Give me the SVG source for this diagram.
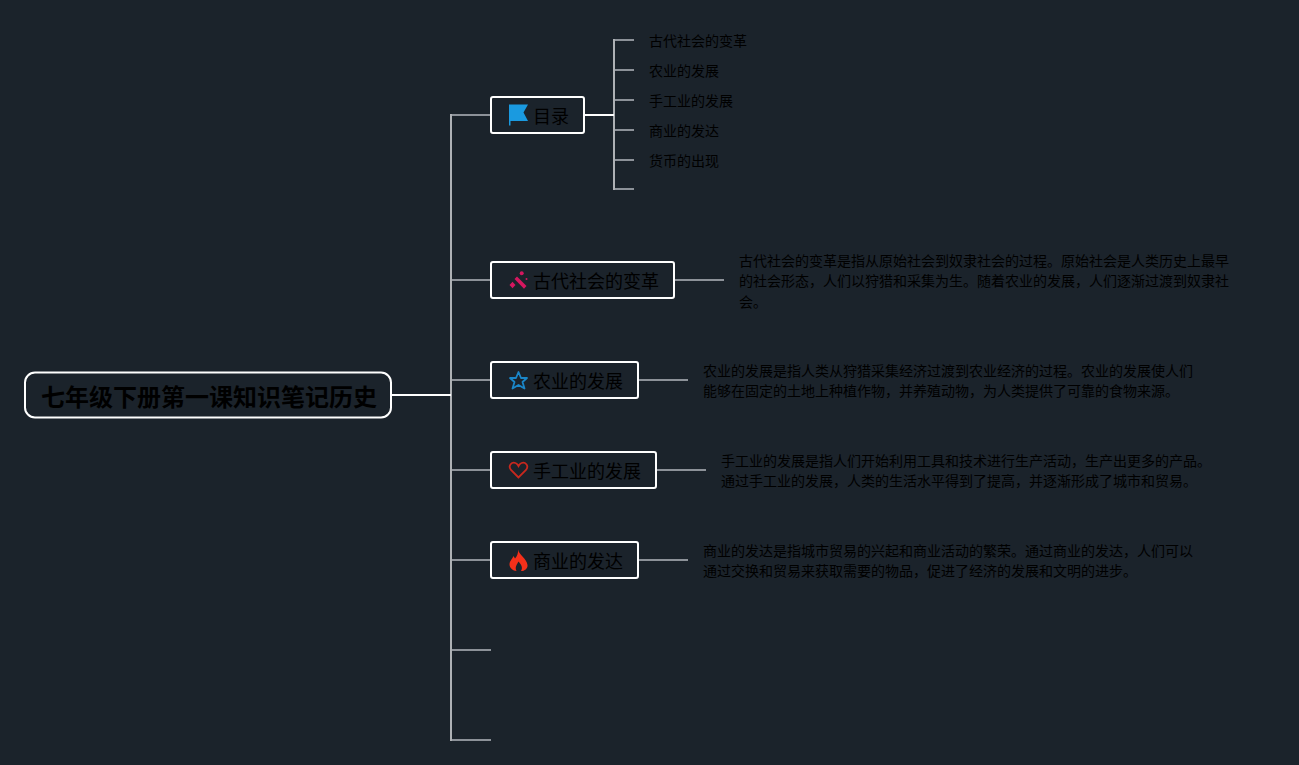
<svg xmlns="http://www.w3.org/2000/svg" width="1299" height="765" viewBox="0 0 1299 765">
<style>
text{font-family:"Noto Sans CJK SC","Liberation Sans",sans-serif;fill:#000}
.root{font-size:24px;font-weight:700}
.main{font-size:18px}
.sub{font-size:14px}
.box{fill:#1b232b;stroke:#fff;stroke-width:2}
.stub{fill:none;stroke:#8d9299;stroke-width:2}
.trunk{fill:none;stroke:#aeb1b5;stroke-width:2}
.w{fill:none;stroke:#fff;stroke-width:2}
</style>
<rect width="1299" height="765" fill="#1b232b"/>
<g id="connectors">
<path class="stub" d="M451 115H491M451 740H491M451 280H491M451 380H491M451 470H491M451 560H491M451 650H491"/>
<path class="trunk" d="M451 114V741"/>
<path class="w" d="M392 395H451"/>
<path class="stub" d="M614 40H634M614 189H634M614 70H634M614 100H634M614 130H634M614 160H634"/>
<path class="trunk" d="M614 39V190"/>
<path class="w" d="M584 115H614"/>
<path class="stub" d="M674 280H724M638 380H688M656 470H706M638 560H688"/>
</g>
<g id="root"><rect class="box" x="25" y="372.500" width="366" height="45" rx="10"/><text class="root" x="41" y="405.500">七年级下册第一课知识笔记历史</text></g>
<g id="n-mulu"><rect class="box" x="491" y="97" width="93" height="36" rx="2"/>
<path d="M509 104.500H528L523.500 112.500L528 121H510.500V125.500H509Z" fill="#1a9ae0"/><text class="main" x="533" y="123">目录</text></g>
<g id="n-gudai"><rect class="box" x="491" y="262" width="183" height="36" rx="2"/>
<g fill="#d5175f"><path d="M517 276.500L526.500 286L524 288.800L514.500 279Z"/><circle cx="521.700" cy="273.300" r="2"/><path d="M512.500 281.800L515.500 285L512.500 288.200L509.500 285Z"/><circle cx="526.500" cy="279" r="1"/></g>
<text class="main" x="533" y="288">古代社会的变革</text></g>
<g id="n-nongye"><rect class="box" x="491" y="362" width="147" height="36" rx="2"/>
<path d="M518.500 372L521 378H527L522.500 382L524.500 388.500L518.500 385L512.500 388.500L514.500 382L510 378H516Z" fill="none" stroke="#1a86c8" stroke-width="1.800" stroke-linejoin="round"/>
<text class="main" x="533" y="388">农业的发展</text></g>
<g id="n-shougong"><rect class="box" x="491" y="452" width="165" height="36" rx="2"/>
<path d="M518.500 477.500L511 470C507.500 465.500 512 461.500 515.500 463C517 463.500 518 465 518.500 466C519 465 520 463.500 521.500 463C525 461.500 529.500 465.500 526 470Z" fill="none" stroke="#c8281e" stroke-width="1.800"/>
<text class="main" x="533" y="478">手工业的发展</text></g>
<g id="n-shangye"><rect class="box" x="491" y="542" width="147" height="36" rx="2"/>
<path d="M518 549.500C519 555 526.500 558 527.500 565C528 569 523.500 571.500 521 571C523.500 567 520.500 564 518.500 561.500C517 564.500 514.500 567 516.500 571C513 571 509.500 568 509.500 564.500C509.500 561 512.500 559 513.500 556L515 558.500C517 556.500 518.500 553 518 549.500Z" fill="#f5301a"/>
<text class="main" x="533" y="568">商业的发达</text></g>
<g id="toc1"><text class="sub" x="649" y="46">古代社会的变革</text></g>
<g id="toc2"><text class="sub" x="649" y="76">农业的发展</text></g>
<g id="toc3"><text class="sub" x="649" y="106">手工业的发展</text></g>
<g id="toc4"><text class="sub" x="649" y="136">商业的发达</text></g>
<g id="toc5"><text class="sub" x="649" y="166">货币的出现</text></g>
<g id="note-gudai"><text class="sub" x="739" y="265.500">古代社会的变革是指从原始社会到奴隶社会的过程。原始社会是人类历史上最早</text><text class="sub" x="739" y="286">的社会形态，人们以狩猎和采集为生。随着农业的发展，人们逐渐过渡到奴隶社</text><text class="sub" x="739" y="306.500">会。</text></g>
<g id="note-nongye"><text class="sub" x="703" y="375.500">农业的发展是指人类从狩猎采集经济过渡到农业经济的过程。农业的发展使人们</text><text class="sub" x="703" y="396">能够在固定的土地上种植作物，并养殖动物，为人类提供了可靠的食物来源。</text></g>
<g id="note-shougong"><text class="sub" x="721" y="465.500">手工业的发展是指人们开始利用工具和技术进行生产活动，生产出更多的产品。</text><text class="sub" x="721" y="486">通过手工业的发展，人类的生活水平得到了提高，并逐渐形成了城市和贸易。</text></g>
<g id="note-shangye"><text class="sub" x="703" y="555.500">商业的发达是指城市贸易的兴起和商业活动的繁荣。通过商业的发达，人们可以</text><text class="sub" x="703" y="576">通过交换和贸易来获取需要的物品，促进了经济的发展和文明的进步。</text></g>
</svg>
